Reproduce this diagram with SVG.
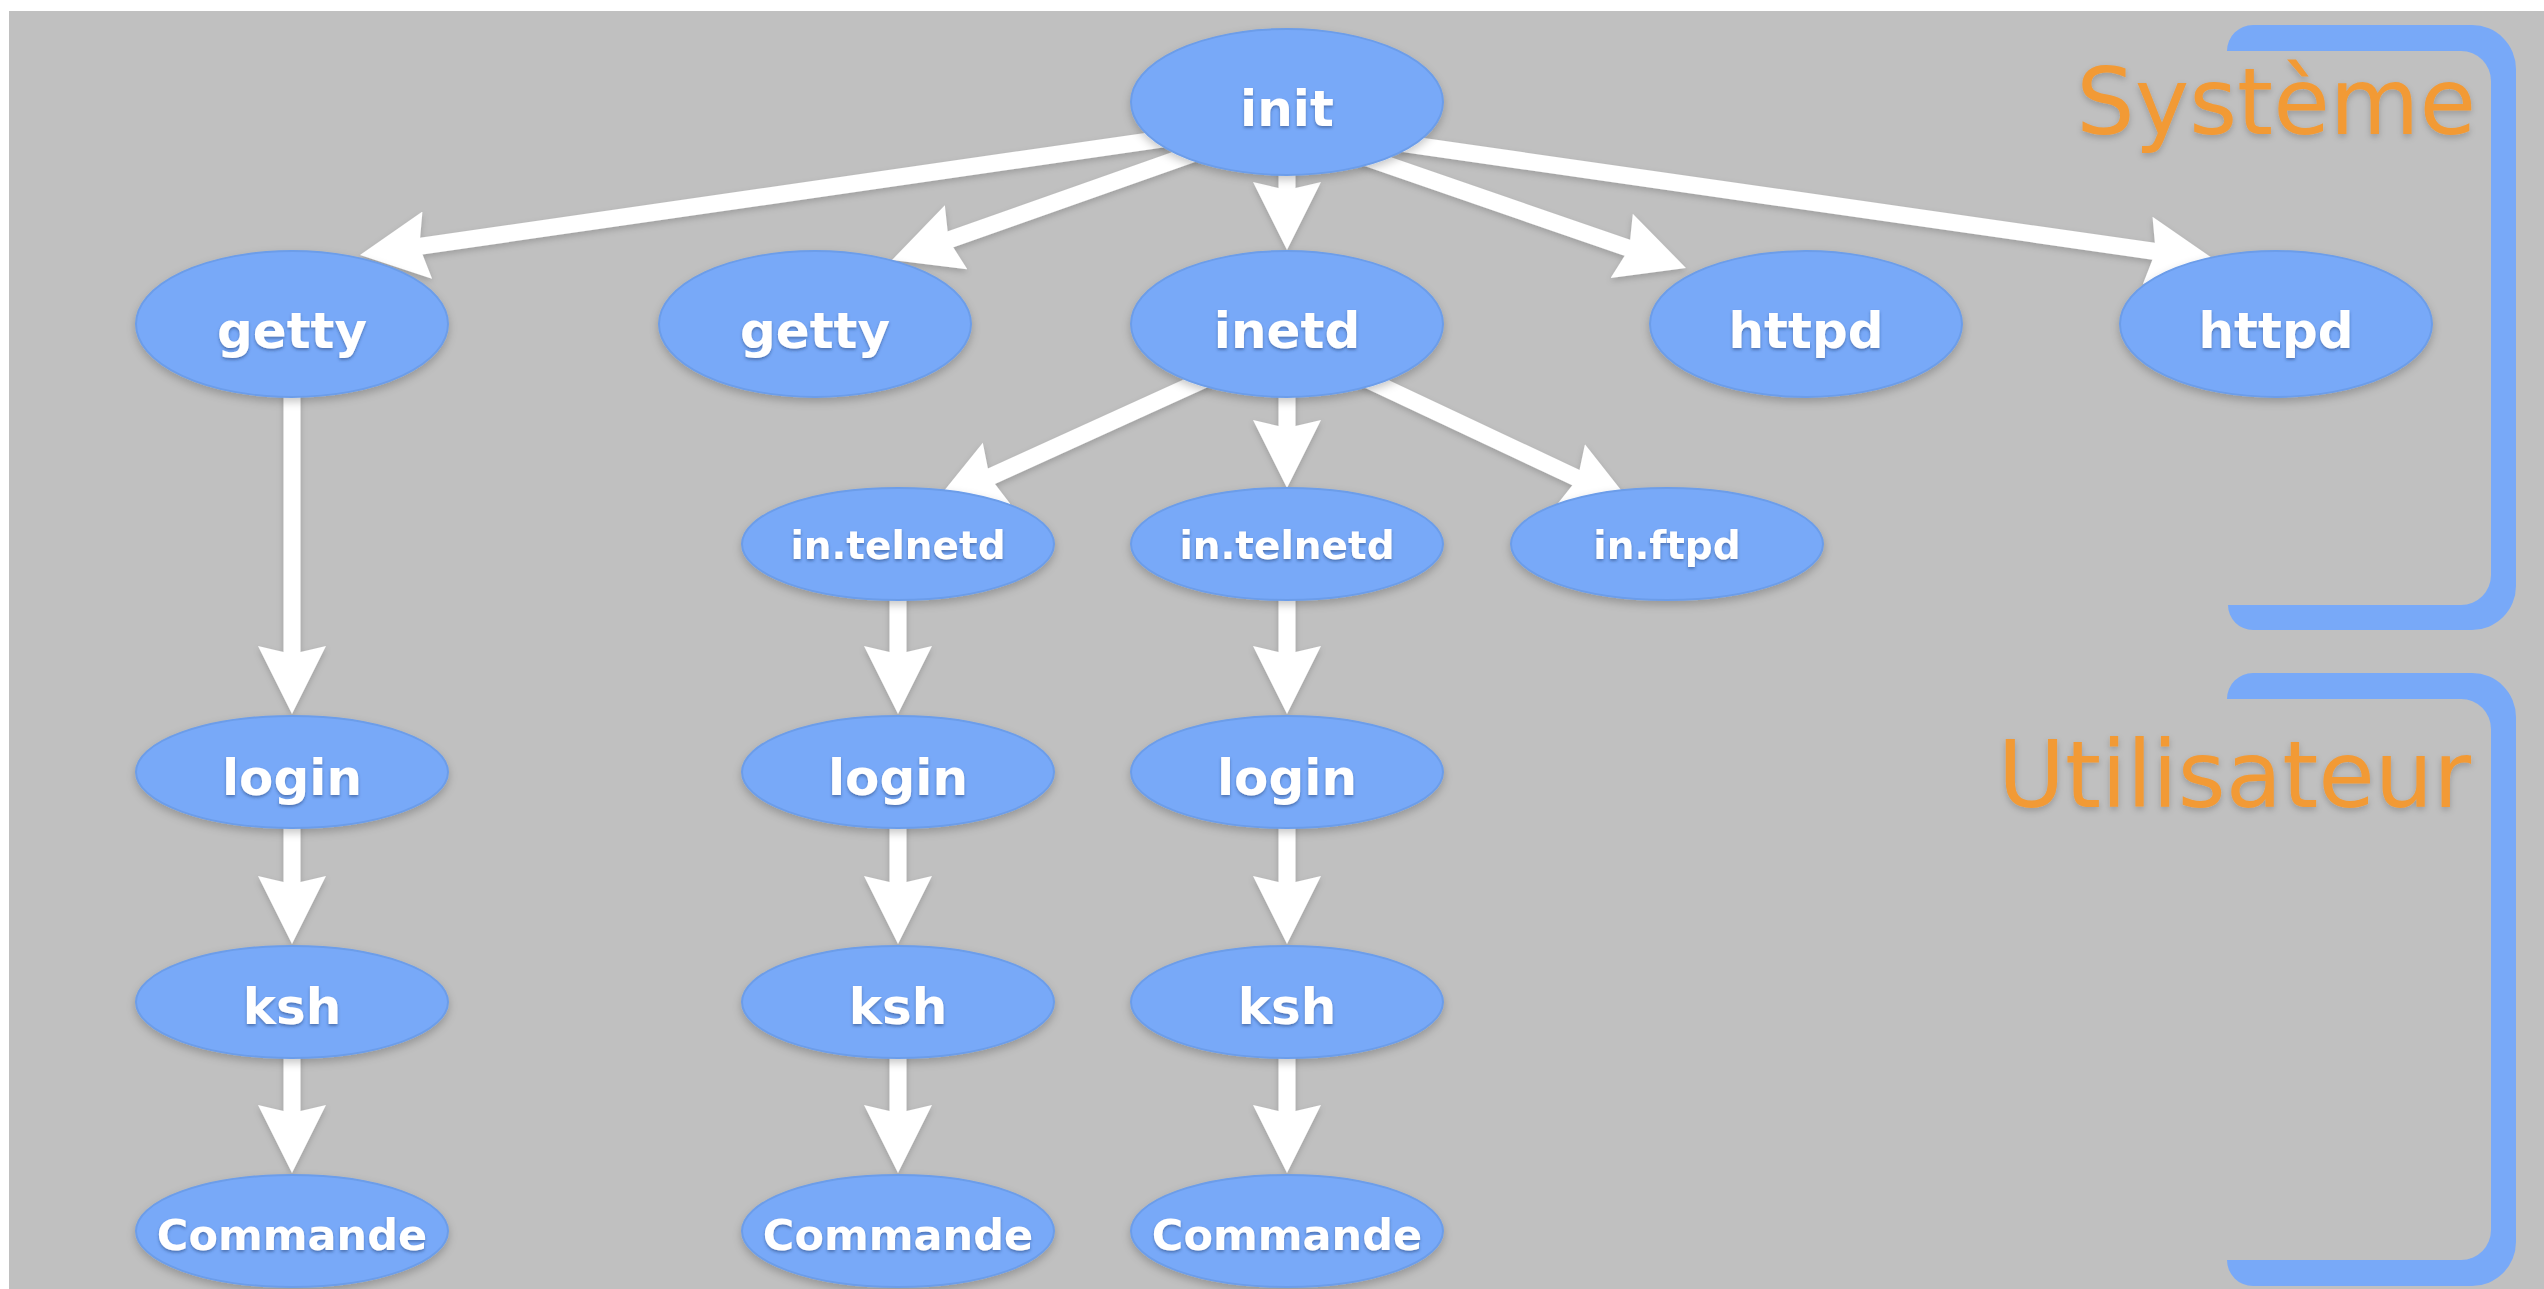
<svg xmlns="http://www.w3.org/2000/svg" width="2544" height="1289" viewBox="0 0 2544 1289">
  <style>
    .node ellipse { fill: #78a9f8; stroke: #6c9de9; stroke-width: 2; }
    .node text { font-family: "DejaVu Sans", Verdana, sans-serif; font-weight: bold; fill: #ffffff; text-anchor: middle; }
    .big text { font-size: 50px; }
    .mid text { font-size: 39px; }
    .cmd text { font-size: 43px; }
    .edge { stroke: #ffffff; stroke-width: 17; fill: none; marker-end: url(#head); }
    .bracket { fill: #78a9f8; }
    .zone { font-family: "DejaVu Sans", Verdana, sans-serif; font-size: 92px; fill: #f29a36; text-anchor: end; }
  </style>
  <defs>
    <marker id="head" viewBox="0 -35 69 70" markerWidth="69" markerHeight="70" refX="29" refY="0" orient="auto" markerUnits="userSpaceOnUse">
      <path d="M0,-34 L68,0 L0,34 L8,0 Z" fill="#ffffff"/>
    </marker>
    <filter id="shadow" x="-20%" y="-20%" width="140%" height="150%">
      <feDropShadow dx="0" dy="4" stdDeviation="4" flood-color="#000" flood-opacity="0.22"/>
    </filter>
    <filter id="lineShadow" x="-5%" y="-10%" width="110%" height="120%">
      <feDropShadow dx="0" dy="3" stdDeviation="3" flood-color="#000" flood-opacity="0.18"/>
    </filter>
    <filter id="textShadow" x="-10%" y="-30%" width="120%" height="160%">
      <feDropShadow dx="0" dy="2" stdDeviation="1.5" flood-color="#1a3a70" flood-opacity="0.5"/>
    </filter>
    <filter id="zoneShadow" x="-5%" y="-20%" width="110%" height="140%">
      <feDropShadow dx="0" dy="3" stdDeviation="3" flood-color="#000" flood-opacity="0.2"/>
    </filter>
  </defs>

  <!-- slide background -->
  <rect x="0" y="0" width="2544" height="1289" fill="#ffffff"/>
  <rect x="9" y="11" width="2535" height="1278" fill="#c0c0c0"/>

  <!-- connectors -->
  <g id="connectors" filter="url(#lineShadow)">
    <line class="edge" x1="1168.8" y1="138.1" x2="398.6" y2="249.4"/>
    <line class="edge" x1="1202.9" y1="150.3" x2="928.8" y2="247.0"/>
    <line class="edge" x1="1287" y1="160" x2="1287" y2="211"/>
    <line class="edge" x1="1360.1" y1="155.5" x2="1649.1" y2="255.3"/>
    <line class="edge" x1="1400.2" y1="143.2" x2="2176.4" y2="254.5"/>
    <line class="edge" x1="1210.2" y1="376.7" x2="970.5" y2="485.8"/>
    <line class="edge" x1="1287" y1="380" x2="1287" y2="449"/>
    <line class="edge" x1="1360.9" y1="376.5" x2="1596.7" y2="487.4"/>
    <line class="edge" x1="292" y1="380" x2="292" y2="675"/>
    <line class="edge" x1="898" y1="585" x2="898" y2="675"/>
    <line class="edge" x1="1287" y1="585" x2="1287" y2="675"/>
    <line class="edge" x1="292" y1="815" x2="292" y2="905"/>
    <line class="edge" x1="898" y1="815" x2="898" y2="905"/>
    <line class="edge" x1="1287" y1="815" x2="1287" y2="905"/>
    <line class="edge" x1="292" y1="1045" x2="292" y2="1134"/>
    <line class="edge" x1="898" y1="1045" x2="898" y2="1134"/>
    <line class="edge" x1="1287" y1="1045" x2="1287" y2="1134"/>
  </g>

  <!-- process nodes -->
  <g id="init" class="node big" filter="url(#shadow)">
    <ellipse cx="1287" cy="102" rx="156" ry="73"/>
    <text x="1287" y="126" filter="url(#textShadow)">init</text>
  </g>
  <g id="getty-1" class="node big" filter="url(#shadow)">
    <ellipse cx="292" cy="324" rx="156" ry="73"/>
    <text x="292" y="348" filter="url(#textShadow)">getty</text>
  </g>
  <g id="getty-2" class="node big" filter="url(#shadow)">
    <ellipse cx="815" cy="324" rx="156" ry="73"/>
    <text x="815" y="348" filter="url(#textShadow)">getty</text>
  </g>
  <g id="inetd" class="node big" filter="url(#shadow)">
    <ellipse cx="1287" cy="324" rx="156" ry="73"/>
    <text x="1287" y="348" filter="url(#textShadow)">inetd</text>
  </g>
  <g id="httpd-1" class="node big" filter="url(#shadow)">
    <ellipse cx="1806" cy="324" rx="156" ry="73"/>
    <text x="1806" y="348" filter="url(#textShadow)">httpd</text>
  </g>
  <g id="httpd-2" class="node big" filter="url(#shadow)">
    <ellipse cx="2276" cy="324" rx="156" ry="73"/>
    <text x="2276" y="348" filter="url(#textShadow)">httpd</text>
  </g>

  <g id="in-telnetd-1" class="node mid" filter="url(#shadow)">
    <ellipse cx="898" cy="544" rx="156" ry="56"/>
    <text x="898" y="559" filter="url(#textShadow)">in.telnetd</text>
  </g>
  <g id="in-telnetd-2" class="node mid" filter="url(#shadow)">
    <ellipse cx="1287" cy="544" rx="156" ry="56"/>
    <text x="1287" y="559" filter="url(#textShadow)">in.telnetd</text>
  </g>
  <g id="in-ftpd" class="node mid" filter="url(#shadow)">
    <ellipse cx="1667" cy="544" rx="156" ry="56"/>
    <text x="1667" y="559" filter="url(#textShadow)">in.ftpd</text>
  </g>

  <g id="login-1" class="node big" filter="url(#shadow)">
    <ellipse cx="292" cy="772" rx="156" ry="56"/>
    <text x="292" y="795" filter="url(#textShadow)">login</text>
  </g>
  <g id="login-2" class="node big" filter="url(#shadow)">
    <ellipse cx="898" cy="772" rx="156" ry="56"/>
    <text x="898" y="795" filter="url(#textShadow)">login</text>
  </g>
  <g id="login-3" class="node big" filter="url(#shadow)">
    <ellipse cx="1287" cy="772" rx="156" ry="56"/>
    <text x="1287" y="795" filter="url(#textShadow)">login</text>
  </g>

  <g id="ksh-1" class="node big" filter="url(#shadow)">
    <ellipse cx="292" cy="1002" rx="156" ry="56"/>
    <text x="292" y="1024" filter="url(#textShadow)">ksh</text>
  </g>
  <g id="ksh-2" class="node big" filter="url(#shadow)">
    <ellipse cx="898" cy="1002" rx="156" ry="56"/>
    <text x="898" y="1024" filter="url(#textShadow)">ksh</text>
  </g>
  <g id="ksh-3" class="node big" filter="url(#shadow)">
    <ellipse cx="1287" cy="1002" rx="156" ry="56"/>
    <text x="1287" y="1024" filter="url(#textShadow)">ksh</text>
  </g>

  <g id="commande-1" class="node cmd" filter="url(#shadow)">
    <ellipse cx="292" cy="1231" rx="156" ry="56"/>
    <text x="292" y="1250" filter="url(#textShadow)">Commande</text>
  </g>
  <g id="commande-2" class="node cmd" filter="url(#shadow)">
    <ellipse cx="898" cy="1231" rx="156" ry="56"/>
    <text x="898" y="1250" filter="url(#textShadow)">Commande</text>
  </g>
  <g id="commande-3" class="node cmd" filter="url(#shadow)">
    <ellipse cx="1287" cy="1231" rx="156" ry="56"/>
    <text x="1287" y="1250" filter="url(#textShadow)">Commande</text>
  </g>

  <!-- system / user zones -->
  <g id="zone-systeme">
    <path class="bracket" d="M2227,51 A26,26 0 0 1 2253,25 L2472,25 A44,44 0 0 1 2516,69 L2516,586 A44,44 0 0 1 2472,630 L2253,630 A25,25 0 0 1 2228,605 L2461,605 A30,30 0 0 0 2491,575 L2491,81 A30,30 0 0 0 2461,51 Z"/>
    <text class="zone" x="2476" y="134" filter="url(#zoneShadow)">Système</text>
  </g>
  <g id="zone-utilisateur">
    <path class="bracket" d="M2227,699 A26,26 0 0 1 2253,673 L2472,673 A44,44 0 0 1 2516,717 L2516,1242 A44,44 0 0 1 2472,1286 L2253,1286 A26,26 0 0 1 2227,1260 L2461,1260 A30,30 0 0 0 2491,1230 L2491,729 A30,30 0 0 0 2461,699 Z"/>
    <text class="zone" x="2471" y="807" filter="url(#zoneShadow)">Utilisateur</text>
  </g>
</svg>
